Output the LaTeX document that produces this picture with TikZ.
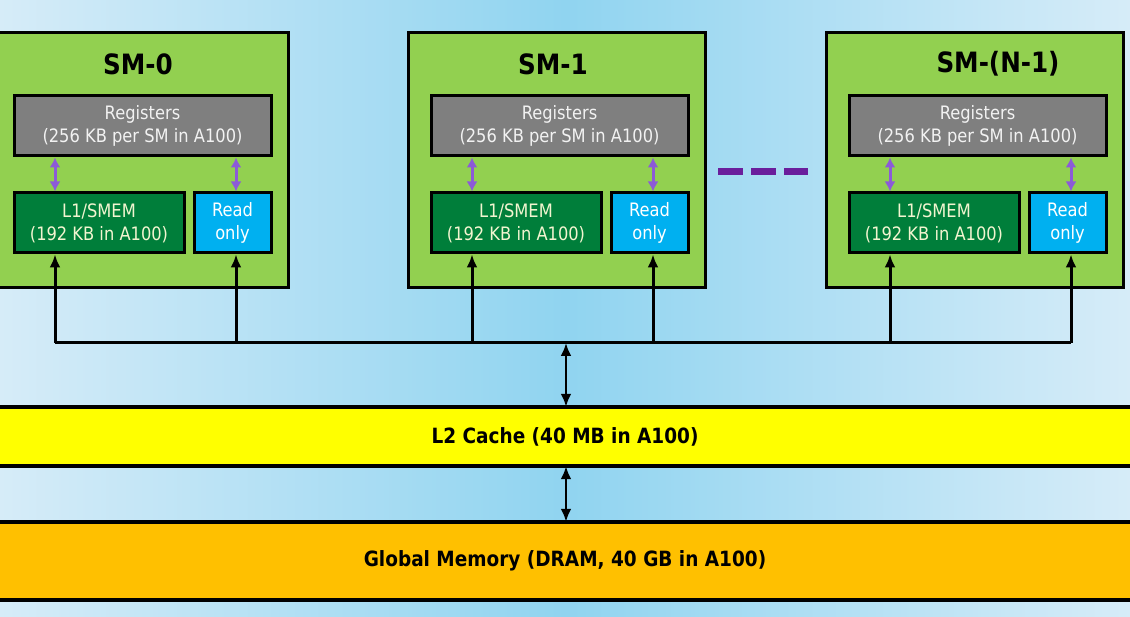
\documentclass[tikz,border=0pt]{standalone}
\usepackage{fontspec}
\setmainfont{DejaVu Sans}[FakeStretch=0.88]
\usetikzlibrary{arrows.meta}

\definecolor{bgedge}{HTML}{D6ECF8}
\definecolor{bgmid}{HTML}{90D4F0}
\definecolor{smgreen}{HTML}{92D050}
\definecolor{reggray}{HTML}{7F7F7F}
\definecolor{lonegreen}{HTML}{007E3A}
\definecolor{lonetext}{HTML}{F2F5D0}
\definecolor{roblue}{HTML}{00B0F0}
\definecolor{ltwo}{HTML}{FFFF00}
\definecolor{gmemc}{HTML}{FFC000}
\definecolor{darkpurple}{HTML}{6A1E9C}
\definecolor{lightpurple}{HTML}{8C5AD8}

\tikzset{
  smbox/.style={draw, fill=smgreen, line width=3pt, minimum width=297pt, minimum height=255pt},
  regbox/.style={draw, fill=reggray, line width=3pt, minimum width=257pt, minimum height=60pt,
    text=white!95!black, align=center, font=\fontsize{18.5}{23}\selectfont},
  lonebox/.style={draw, fill=lonegreen, line width=3pt, minimum width=170pt, minimum height=60pt,
    text=lonetext, align=center, font=\fontsize{18.5}{23}\selectfont},
  robox/.style={draw, fill=roblue, line width=3pt, minimum width=77pt, minimum height=60pt,
    text=white, align=center, font=\fontsize{18.5}{23}\selectfont},
  smtitle/.style={font=\fontsize{28}{32}\selectfont\bfseries},
  bar/.style={fill=#1, minimum width=1160pt, inner sep=0pt, font=\fontsize{21}{25}\selectfont\bfseries},
  barline/.style={line width=3.5pt},
  busline/.style={line width=3pt},
  busarrow/.style={line width=3pt, -{Latex[length=13pt,width=11pt]}},
  regarrow/.style={line width=3pt, lightpurple, {Latex[length=10pt,width=11pt]}-{Latex[length=10pt,width=11pt]}},
  levelarrow/.style={line width=2.5pt, {Latex[length=13pt,width=11pt]}-{Latex[length=13pt,width=11pt]}}
}

\begin{document}
\begin{tikzpicture}[x=1pt,y=-1pt]
\useasboundingbox (0,0) rectangle (1130,617);
% background
\shade[left color=bgedge, right color=bgedge, middle color=bgmid] (0,0) rectangle (1130,617);

% the three SMs
\foreach \i/\dx/\title/\tx in {0/0/{SM-0}/138, 1/417/{SM-1}/553, 2/835/{SM-(N-1)}/998}{
  \node[smbox] (sm\i) at (139.5+\dx,160.5) {};
  \node[smtitle] (title\i) at (\tx,64) {\title};
  \node[regbox] (regs\i) at (142.5+\dx,126) {Registers\\(256 KB per SM in A100)};
  \node[lonebox] (lone\i) at (99+\dx,223) {L1/SMEM\\(192 KB in A100)};
  \node[robox] (ro\i) at (232.5+\dx,223) {Read\\only};
  \coordinate (pl\i) at (55+\dx,343);
  \coordinate (pr\i) at (236+\dx,343);
  \draw[regarrow] (regs\i.south -| pl\i) -- (lone\i.north -| pl\i);
  \draw[regarrow] (regs\i.south -| pr\i) -- (ro\i.north -| pr\i);
  \draw[busarrow] (pl\i) -- (lone\i.south -| pl\i);
  \draw[busarrow] (pr\i) -- (ro\i.south -| pr\i);
}

% more SMs
\draw[darkpurple, line width=7pt, dash pattern=on 25pt off 8pt] (718,172) -- (808,172);

% shared bus
\draw[busline] (pl0) -- (pr2);
\coordinate (hub) at (566,343);

% L2 and global memory
\node[bar=ltwo, minimum height=59pt] (ltwo) at (565,436.5) {L2 Cache (40 MB in A100)};
\draw[barline] (ltwo.north west) -- (ltwo.north east);
\draw[barline] (ltwo.south west) -- (ltwo.south east);
\node[bar=gmemc, minimum height=78pt] (gmem) at (565,561) {Global Memory (DRAM, 40 GB in A100)};
\draw[barline] (gmem.north west) -- (gmem.north east);
\draw[barline] (gmem.south west) -- (gmem.south east);

\draw[levelarrow] (hub) -- (ltwo.north -| hub);
\draw[levelarrow] (ltwo.south -| hub) -- (gmem.north -| hub);
\end{tikzpicture}
\end{document}
